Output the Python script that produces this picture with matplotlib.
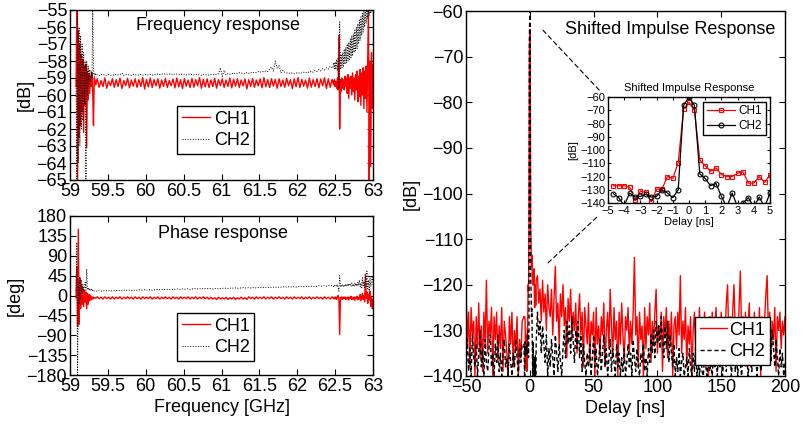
import numpy as np
import matplotlib
matplotlib.use('Agg')
import matplotlib.pyplot as plt
from matplotlib.patches import ConnectionPatch

plt.rcParams['font.family'] = ['Liberation Sans', 'DejaVu Sans']
plt.rcParams['font.size'] = 13

# ---- frequency grid: dense at the band edges, coarser in the flat middle
freq_lo = np.linspace(59.08, 59.34, 27)
freq_mid = np.linspace(59.36, 62.46, 125)
freq_hi = np.linspace(62.47, 63.00, 54)
freq = np.concatenate([freq_lo, freq_mid, freq_hi])

# magnitude [dB]
mag_ch1 = (
    [-59.5, -55.0, -65.0, -56.2, -62.5, -57.0, -61.8, -57.6, -61.0, -57.9,
     -62.2, -58.3, -60.6, -58.2, -63.1, -58.6, -60.3, -58.8, -59.9, -58.9,
     -59.5, -58.7, -59.8, -61.8, -59.0, -59.1, -59.4]
    + [-59.05, -59.55, -59.15, -59.5, -59.0, -59.6, -59.2, -59.45, -59.05, -59.55,
       -59.1, -59.5, -59.0, -59.62, -59.15, -59.45, -59.02, -59.58, -59.12, -59.48,
       -59.05, -59.55, -59.1, -59.5, -58.98, -59.65, -59.08, -59.52, -59.0, -59.56,
       -59.1, -59.46, -59.05, -59.6, -59.12, -59.5, -59.02, -59.55, -59.15, -59.45,
       -59.06, -59.58, -59.0, -59.52, -59.1, -59.62, -59.04, -59.48, -59.12, -59.56,
       -59.03, -59.54, -59.1, -59.46, -58.98, -59.6, -59.08, -59.52, -59.05, -59.56,
       -59.12, -59.5, -59.02, -59.6, -59.1, -59.45, -59.05, -59.55, -59.12, -59.5,
       -59.0, -59.58, -59.08, -59.48, -59.04, -59.56, -59.12, -59.46, -59.06, -59.64,
       -59.1, -59.5, -59.02, -59.55, -59.12, -59.46, -59.05, -59.58, -58.98, -59.52,
       -59.1, -59.56, -59.04, -59.48, -59.08, -59.6, -59.05, -59.5, -59.12, -59.55,
       -59.02, -59.46, -59.1, -59.62, -59.05, -59.52, -58.98, -59.56, -59.08, -59.48,
       -59.12, -59.6, -59.0, -59.54, -59.1, -59.5, -59.04, -59.58, -59.06, -59.46,
       -58.98, -59.62, -59.05, -59.55, -59.1]
    + [-59.2, -59.4, -59.1, -59.5, -59.2, -59.6, -59.0, -59.7, -56.5, -62.0,
       -59.1, -59.8, -59.0, -59.6, -59.1, -59.7, -58.9, -59.5, -59.0, -59.9,
       -58.8, -60.2, -59.0, -59.6, -58.9, -60.0, -58.7, -59.8, -59.0, -60.3,
       -58.8, -59.7, -58.6, -60.4, -58.9, -60.1, -58.5, -60.6, -58.7, -60.0,
       -58.4, -60.8, -58.6, -60.2, -58.3, -61.0, -57.8, -55.0, -65.0, -58.0,
       -64.2, -57.5, -60.8, -58.2]
)
mag_ch2 = (
    [-59.0, -65.0, -55.0, -64.0, -56.0, -63.0, -56.5, -62.0, -57.0, -61.5,
     -57.5, -60.5, -58.0, -65.0, -58.0, -60.0, -58.3, -59.5, -58.5, -59.2,
     -58.6, -59.0, -55.0, -58.7, -58.9, -58.7, -58.85]
    + [-58.8, -58.85, -58.78, -58.83, -58.8, -58.86, -58.79, -58.84, -58.81, -58.85,
       -58.78, -58.82, -58.8, -58.7, -58.84, -58.79, -58.83, -58.8, -58.85, -58.78,
       -58.82, -58.8, -58.84, -58.79, -58.83, -58.8, -58.77, -58.82, -58.79, -58.84,
       -58.78, -58.81, -58.76, -58.8, -58.75, -58.79, -58.74, -58.78, -58.76, -58.8,
       -58.75, -58.79, -58.77, -58.81, -58.76, -58.8, -58.78, -58.82, -58.77, -58.8,
       -58.78, -58.82, -58.79, -58.83, -58.8, -58.84, -58.78, -58.82, -58.8, -58.83,
       -58.79, -58.82, -58.78, -58.8, -58.75, -58.4, -58.9, -58.55, -58.82, -58.74,
       -58.78, -58.72, -58.76, -58.7, -58.74, -58.69, -58.73, -58.7, -58.75, -58.68,
       -58.72, -58.66, -58.7, -58.65, -58.68, -58.62, -58.66, -58.6, -58.65, -58.58,
       -58.62, -58.5, -58.35, -58.6, -58.0, -58.45, -58.25, -58.7, -58.55, -58.66,
       -58.7, -58.74, -58.68, -58.72, -58.75, -58.7, -58.73, -58.68, -58.71, -58.66,
       -58.7, -58.64, -58.68, -58.6, -58.66, -58.55, -58.62, -58.5, -58.58, -58.45,
       -58.52, -58.4, -58.48, -58.3, -58.42]
    + [-58.35, -58.1, -58.45, -58.05, -58.5, -57.9, -58.6, -57.8, -59.6, -55.7,
       -58.5, -57.6, -58.4, -57.5, -58.3, -57.3, -58.2, -57.2, -58.1, -57.0,
       -58.0, -56.9, -57.9, -56.7, -57.8, -56.5, -57.7, -56.4, -57.5, -56.2,
       -57.4, -56.0, -57.3, -55.8, -57.0, -55.6, -56.8, -55.4, -56.5, -55.2,
       -56.3, -55.0, -56.0, -55.0, -55.8, -55.0, -55.5, -55.0, -55.3, -55.0,
       -55.2, -55.0, -55.1, -55.0]
)

# phase [deg]
phase_ch1 = (
    [-5, 65, -70, 150, -65, 40, -30, 25, -20, 18, -25, 12, -15, 8, -30, 5,
     -20, 2, -12, 0, -10, -3, -8, -4, -6, -5, -6]
    + [-3, -7, -4, -8, -3, -7, -4, -8, -3, -8,
       -4, -7, -3, -8, -4, -7, -3, -7, -4, -8,
       -3, -7, -4, -8, -3, -7, -4, -7, -3, -8,
       -4, -7, -3, -8, -4, -7, -3, -7, -4, -8,
       -3, -7, -4, -8, -3, -7, -4, -7, -3, -8,
       -4, -7, -3, -8, -4, -7, -3, -7, -4, -8,
       -4, -8, -5, -9, -4, -8, -5, -8, -4, -9,
       -5, -8, -4, -9, -5, -8, -4, -8, -5, -9,
       -3, -7, -4, -8, -3, -7, -4, -7, -3, -8,
       -4, -7, -3, -8, -4, -7, -3, -7, -4, -8,
       -3, -7, -4, -8, -3, -7, -4, -7, -3, -8,
       -4, -7, -3, -8, -4, -7, -3, -7, -4, -8,
       -3, -7, -4, -8, -3]
    + [-5, -7, -4, -8, -3, -9, -4, 0, -10, -88,
       -4, -8, -3, -9, -4, -7, -3, -9, -5, -8,
       -3, -10, -4, -7, -2, -9, -5, -8, -3, -11,
       -4, -7, -2, -10, -5, -8, 2, -12, -4, 5,
       -9, 0, -14, 48, -6, 8, -18, 3, -10, 10,
       -25, -5, -30, -8]
)
phase_ch2 = (
    [10, 120, -180, 30, -20, 40, -10, 35, 5, 25, 10, 20, 30, 12, 60, 15,
     18, 12, 16, 11, 14, 10, 12, 9, 11, 10, 10]
    + [10, 11, 10, 11, 10, 11, 11, 10, 11, 11,
       11, 12, 11, 11, 12, 11, 12, 12, 11, 12,
       12, 12, 13, 12, 12, 13, 12, 13, 13, 12,
       13, 13, 14, 13, 13, 14, 13, 14, 14, 13,
       14, 14, 15, 14, 14, 15, 14, 15, 15, 14,
       15, 15, 16, 15, 15, 16, 15, 16, 16, 15,
       16, 15, 16, 16, 15, 16, 16, 17, 16, 16,
       17, 16, 17, 17, 16, 17, 17, 18, 17, 17,
       18, 17, 18, 18, 17, 18, 18, 19, 18, 18,
       18, 19, 18, 19, 19, 18, 19, 19, 20, 19,
       19, 20, 19, 20, 20, 19, 20, 20, 21, 20,
       20, 21, 20, 21, 21, 20, 21, 22, 21, 22,
       22, 21, 22, 23, 22]
    + [22, 20, 24, 21, 23, 20, 25, 19, 10, 45,
       21, 24, 20, 25, 21, 24, 20, 26, 22, 25,
       21, 27, 22, 25, 21, 28, 23, 26, 20, 29,
       22, 27, 21, 30, 23, 35, 20, 28, 15, 40,
       22, 32, 18, 45, 20, 55, 15, 35, 10, 40,
       20, 30, 45, 25]
)

# ---- impulse response, fine samples around the peak (1/3 ns step)
delay_fine = np.arange(-14, 16) / 3.0
imp_fine_ch1 = [-127, -127, -127, -128, -138, -131, -132, -139, -129.5, -129.5,
                -120, -121.5, -109.5, -69, -64, -70, -107.5, -112, -116, -113.5,
                -118.5, -120, -120, -117.5, -116.5, -125, -125, -120, -124.5, -119]
imp_fine_ch2 = [-133, -136, -142, -132.5, -135.5, -135, -133.5, -135.5, -135, -130,
                -132.5, -136, -130, -66.3, -60, -66.3, -118, -121.5, -127, -125.3,
                -135, -143, -132.5, -143, -140, -136, -143, -135.5, -143, -132.5]

# coarse samples (1 ns) for the rest of the window
delay_left = np.arange(-50, -5)
delay_right = np.arange(6, 201)
imp_left_ch1 = [-120, -133, -126, -138, -125, -131, -128, -140, -127, -134,
                -124, -136, -129, -139, -126, -133, -119, -135, -128, -131,
                -125, -140, -127, -132, -126, -137, -129, -134, -125, -139,
                -128, -131, -135, -140, -127, -133, -126, -138, -130, -134,
                -127, -140, -132, -136, -128]
imp_left_ch2 = [-137, -132, -139, -134, -140, -131, -136, -138, -133, -140,
                -135, -130, -138, -134, -140, -132, -137, -139, -134, -131,
                -138, -135, -140, -133, -137, -131, -139, -135, -140, -134,
                -132, -138, -136, -140, -133, -137, -140, -135, -138, -132,
                -136, -140, -134, -137, -133]
imp_right_ch1 = [-118, -124, -121, -128, -119, -126, -122, -130, -120, -125,
                 -127, -121, -131, -123, -116, -128, -124, -133, -122, -127,
                 -120, -129, -125, -136, -123, -128, -121, -132, -126, -130,
                 -124, -135, -127, -122, -131, -126, -138, -125, -129, -133,
                 -124, -137, -128, -131, -126, -140, -125, -133, -129, -136,
                 -127, -131, -124, -138, -130, -126, -134, -121, -129, -136,
                 -125, -132, -128, -140, -126, -133, -124, -131, -137, -127,
                 -130, -125, -135, -128, -133, -126, -114, -131, -127, -138,
                 -126, -132, -129, -140, -125, -134, -127, -131, -124, -137,
                 -128, -133, -126, -121, -135, -129, -132, -126, -139, -127,
                 -131, -125, -136, -128, -133, -126, -140, -129, -127, -134,
                 -126, -131, -118, -135, -128, -132, -125, -138, -129, -133,
                 -127, -140, -130, -126, -134, -128, -131, -125, -137, -129,
                 -132, -126, -135, -128, -140, -127, -131, -126, -133, -129,
                 -125, -136, -128, -132, -126, -138, -129, -131, -124, -120,
                 -133, -127, -135, -126, -120, -130, -128, -134, -125, -117,
                 -131, -127, -136, -126, -133, -129, -124, -138, -128, -132,
                 -126, -135, -129, -131, -125, -140, -127, -133, -128, -122,
                 -118, -131, -126, -136, -128, -132, -125, -139, -127, -130,
                 -126, -134, -128, -131, -127]
imp_right_ch2 = [-126, -131, -128, -135, -129, -133, -137, -131, -140, -134,
                 -138, -132, -136, -140, -131, -135, -139, -133, -137, -140,
                 -134, -130, -136, -128, -133, -129, -135, -127, -132, -137,
                 -130, -134, -128, -136, -131, -139, -133, -137, -140, -135,
                 -138, -133, -140, -136, -131, -138, -134, -140, -137, -132,
                 -139, -135, -131, -138, -134, -140, -136, -132, -139, -134,
                 -137, -140, -133, -138, -135, -140, -136, -139, -134, -140,
                 -137, -133, -138, -135, -140, -132, -136, -139, -134, -138,
                 -140, -135, -137, -133, -139, -136, -140, -134, -137, -131,
                 -135, -130, -136, -128, -133, -129, -134, -127, -132, -136,
                 -129, -134, -128, -137, -131, -135, -138, -133, -140, -136,
                 -139, -134, -140, -137, -135, -140, -138, -136, -140, -134,
                 -138, -140, -135, -139, -133, -140, -137, -140, -136, -139,
                 -140, -135, -138, -140, -134, -139, -137, -140, -135, -138,
                 -136, -140, -133, -138, -135, -140, -137, -132, -139, -135,
                 -138, -134, -140, -136, -131, -139, -135, -140, -133, -137,
                 -140, -136, -132, -138, -134, -140, -137, -133, -139, -135,
                 -138, -134, -140, -136, -133, -139, -135, -131, -137, -133,
                 -129, -135, -131, -137, -130, -134, -138, -132, -136, -140,
                 -134, -138, -135, -140, -137]

delay = np.concatenate([delay_left, delay_fine, delay_right])
imp_ch1 = np.concatenate([imp_left_ch1, imp_fine_ch1, imp_right_ch1])
imp_ch2 = np.concatenate([imp_left_ch2, imp_fine_ch2, imp_right_ch2])

freq_ticks = [59, 59.5, 60, 60.5, 61, 61.5, 62, 62.5, 63]
freq_ticklabels = ['59', '59.5', '60', '60.5', '61', '61.5', '62', '62.5', '63']


def matlab_axes(ax, fs=13, length=4):
    ax.tick_params(direction='in', top=True, right=True, length=length,
                   width=0.8, labelsize=fs, pad=2)
    for s in ax.spines.values():
        s.set_linewidth(1.0)


def legend_box(ax, **kw):
    leg = ax.legend(fancybox=False, framealpha=1, edgecolor='black',
                    borderaxespad=0, **kw)
    leg.get_frame().set_linewidth(1.0)
    return leg


fig = plt.figure(figsize=(8.02, 4.28), dpi=100)

# frequency response
ax1 = fig.add_axes([70 / 802, 248 / 428, 303 / 802, 170 / 428])
ax1.plot(freq, mag_ch1, color='red', lw=1.0, label='CH1')
ax1.plot(freq, mag_ch2, color='black', ls=':', lw=0.7, label='CH2')
ax1.set_xlim(59, 63)
ax1.set_ylim(-65, -55)
ax1.set_yticks(np.arange(-65, -54, 1))
ax1.set_xticks(freq_ticks)
ax1.set_xticklabels(freq_ticklabels)
ax1.set_ylabel('[dB]', labelpad=2)
ax1.text(0.49, 0.91, 'Frequency response', transform=ax1.transAxes,
         ha='center', va='center', fontsize=13)
legend_box(ax1, loc='upper left', bbox_to_anchor=(107 / 303, 74 / 170),
           fontsize=13, handlelength=1.6, handletextpad=0.2,
           borderpad=0.25, labelspacing=0.25)
matlab_axes(ax1)

# phase response
ax2 = fig.add_axes([70 / 802, 53 / 428, 303 / 802, 159 / 428])
ax2.plot(freq, phase_ch1, color='red', lw=1.0, label='CH1')
ax2.plot(freq, phase_ch2, color='black', ls=':', lw=0.7, label='CH2')
ax2.set_xlim(59, 63)
ax2.set_ylim(-180, 180)
ax2.set_yticks(np.arange(-180, 181, 45))
ax2.set_xticks(freq_ticks)
ax2.set_xticklabels(freq_ticklabels)
ax2.set_ylabel('[deg]', labelpad=2)
ax2.set_xlabel('Frequency [GHz]', labelpad=3)
ax2.text(0.505, 0.893, 'Phase response', transform=ax2.transAxes,
         ha='center', va='center', fontsize=13)
legend_box(ax2, loc='upper left', bbox_to_anchor=(107 / 303, 62 / 159),
           fontsize=13, handlelength=1.6, handletextpad=0.2,
           borderpad=0.25, labelspacing=0.25)
matlab_axes(ax2)

# impulse response
ax3 = fig.add_axes([466 / 802, 52 / 428, 319 / 802, 365 / 428])
ax3.plot(delay, imp_ch1, color='red', lw=1.0, label='CH1')
ax3.plot(delay, imp_ch2, color='black', ls=(0, (3, 2)), lw=1.0, label='CH2')
ax3.set_xlim(-50, 200)
ax3.set_ylim(-140, -60)
ax3.set_yticks(np.arange(-140, -59, 10))
ax3.set_xticks(np.arange(-50, 201, 50))
ax3.set_ylabel('[dB]', labelpad=2)
ax3.set_xlabel('Delay [ns]', labelpad=3)
ax3.text(0.64, 0.948, 'Shifted Impulse Response', transform=ax3.transAxes,
         ha='center', va='center', fontsize=13)
legend_box(ax3, loc='upper left', bbox_to_anchor=(229 / 319, 59 / 365),
           fontsize=13, handlelength=1.5, handletextpad=0.15,
           borderpad=0.25, labelspacing=0.25)
matlab_axes(ax3)

# inset zoom on the peak
axi = fig.add_axes([608 / 802, 225 / 428, 162 / 802, 106 / 428])
axi.plot(delay_fine, imp_fine_ch1, color='red', lw=0.9, marker='s', ms=3.5,
         mfc='none', mec='red', mew=0.8, label='CH1')
axi.plot(delay_fine, imp_fine_ch2, color='black', lw=0.9, marker='o', ms=3.5,
         mfc='none', mec='black', mew=0.8, label='CH2')
axi.set_xlim(-5, 5)
axi.set_ylim(-140, -60)
axi.set_yticks(np.arange(-140, -59, 10))
axi.set_xticks(np.arange(-5, 6, 1))
axi.set_ylabel('[dB]', fontsize=8, labelpad=1)
axi.set_xlabel('Delay [ns]', fontsize=8, labelpad=1)
axi.set_title('Shifted Impulse Response', fontsize=8, pad=4)
legend_box(axi, loc='upper right', bbox_to_anchor=(0.975, 0.955), fontsize=8.5,
           handlelength=2.4, handletextpad=0.3, borderpad=0.3,
           labelspacing=0.2)
matlab_axes(axi, fs=8, length=2.5)

# dashed zoom guides from the peak to the inset
for xy_a, xy_b in [((10.3, -64.2), (-0.043, 1.047)),
                   ((14.3, -115.2), (-0.068, -0.132))]:
    con = ConnectionPatch(xyA=xy_a, coordsA='data', axesA=ax3,
                          xyB=xy_b, coordsB='axes fraction', axesB=axi,
                          color='black', ls=(0, (4, 3)), lw=0.8)
    fig.add_artist(con)

fig.savefig('out.png', dpi=100)
